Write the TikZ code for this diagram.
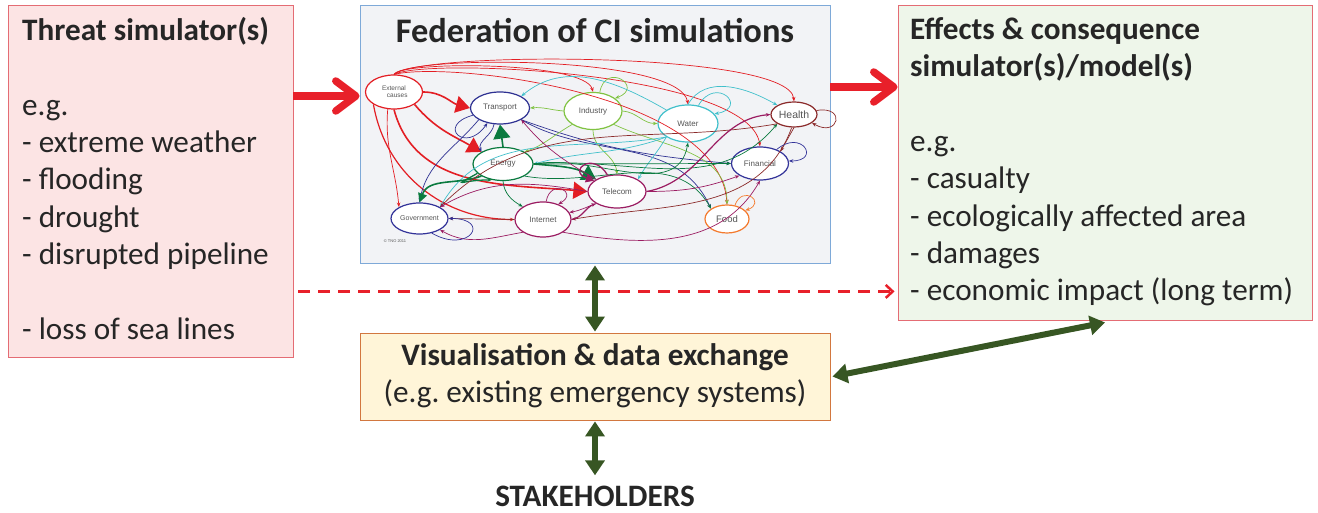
\documentclass[tikz,border=0pt]{standalone}
\usepackage{fontspec}
\setmainfont{Carlito}
\newfontfamily\graphfont{Liberation Sans}
\usetikzlibrary{arrows.meta,shapes.geometric,positioning}
\frenchspacing

\definecolor{threatred}{HTML}{E8202A}
\definecolor{boxred}{HTML}{E46C74}
\definecolor{threatfill}{HTML}{FCE4E4}
\definecolor{effectfill}{HTML}{EEF6EA}
\definecolor{fedfill}{HTML}{F2F3F6}
\definecolor{fedblue}{HTML}{7EA9D8}
\definecolor{visfill}{HTML}{FFF5D8}
\definecolor{visorange}{HTML}{D2773F}
\definecolor{linkgreen}{HTML}{375623}
\definecolor{txtgray}{HTML}{262626}
\definecolor{nodegray}{HTML}{555555}
\definecolor{extred}{HTML}{E31E24}
\definecolor{trnavy}{HTML}{2E3192}
\definecolor{indgreen}{HTML}{80C342}
\definecolor{watcyan}{HTML}{40C0CB}
\definecolor{hlthbrown}{HTML}{8B2B2B}
\definecolor{engreen}{HTML}{0A7A3F}
\definecolor{finnavy}{HTML}{333399}
\definecolor{telpurple}{HTML}{9B1C62}
\definecolor{foodorange}{HTML}{F47A2E}

\begin{document}
\begin{tikzpicture}[x=1pt, y=1pt,
  box/.style={draw, line width=0.9pt, inner sep=0pt},
  bigtext/.style={font=\fontsize{31.2}{37.4}\selectfont, text=txtgray, inner sep=0pt},
  boldtext/.style={bigtext, font=\fontsize{31.2}{37.4}\selectfont\bfseries},
  cinode/.style={ellipse, draw, line width=1.2pt, fill=white, inner sep=0pt, text=nodegray, font=\graphfont\fontsize{8}{8.5}\selectfont},
  link/.style={line width=0.7pt, -{Stealth[length=4.5pt,width=3.5pt]}},
  biglink/.style={line width=1.6pt, -{Triangle[length=14pt,width=17pt]}},
  flow/.style={threatred, line width=7.5pt, -{Straight Barb[length=20pt,width=30pt,round]}},
  share/.style={linkgreen, line width=6pt, {Triangle[length=15pt,width=19pt]}-{Triangle[length=15pt,width=19pt]}}]
\useasboundingbox (0,0) rectangle (1318,513);

% boxes
\node (threat) [box, draw=boxred, fill=threatfill, minimum width=285pt, minimum height=352pt] at (150.5,332) {};
\node (fed) [box, draw=fedblue, fill=fedfill, minimum width=470pt, minimum height=258pt] at (595,379) {};
\node (effects) [box, draw=boxred, fill=effectfill, minimum width=414pt, minimum height=315pt] at (1105,350.5) {};
\node (vis) [box, draw=visorange, fill=visfill, minimum width=470pt, minimum height=87pt] at (595,136.5) {};

% texts
\node (threatlist) [bigtext, anchor=north west, align=left] at (22,496)
  {\textbf{Threat simulator(s)}\\[37.4pt]
   e.g.\\
   - extreme weather\\
   - flooding\\
   - drought\\
   - disrupted pipeline\\[37.4pt]
   - loss of sea lines};
\node (effectlist) [bigtext, anchor=north west, align=left] at (910,496)
  {\textbf{Effects \& consequence}\\
   \textbf{simulator(s)/model(s)}\\[37.4pt]
   e.g.\\
   - casualty\\
   - ecologically affected area\\
   - damages\\
   - economic impact (long term)};
\node (fedtitle) [boldtext, font=\fontsize{34.4}{40}\selectfont\bfseries, anchor=base] at (595,470) {Federation of CI simulations};
\node (vistext) [bigtext, anchor=north, align=center] at (595,170)
  {\textbf{Visualisation \& data exchange}\\
   (e.g. existing emergency systems)};
\node (stake) [boldtext, anchor=base] at (595,6) {STAKEHOLDERS};

% CI nodes
\node (ext) [cinode, draw=extred, minimum width=57pt, minimum height=34pt, align=center, font=\graphfont\fontsize{6.5}{7}\selectfont] at (394,421) {External\\\quad causes};
\node (trans) [cinode, draw=trnavy, minimum width=59pt, minimum height=32pt] at (500,405) {Transport};
\node (ind) [cinode, draw=indgreen, minimum width=58pt, minimum height=37pt] at (593,402) {Industry};
\node (wat) [cinode, draw=watcyan, minimum width=60pt, minimum height=37pt] at (688,389.5) {Water};
\node (hlth) [cinode, draw=hlthbrown, minimum width=46pt, minimum height=25pt, font=\graphfont\fontsize{10.5}{11}\selectfont] at (794,398.5) {Health};
\node (engy) [cinode, draw=engreen, minimum width=60pt, minimum height=33pt] at (503,349) {Energy};
\node (fin) [cinode, draw=finnavy, minimum width=57pt, minimum height=33pt] at (760,349.5) {Financial};
\node (tel) [cinode, draw=telpurple, minimum width=58pt, minimum height=33pt] at (617,321.5) {Telecom};
\node (gov) [cinode, draw=finnavy, minimum width=57pt, minimum height=31pt, font=\graphfont\fontsize{7}{7.5}\selectfont] at (419.5,294.5) {Government};
\node (inet) [cinode, draw=telpurple, minimum width=56pt, minimum height=35pt] at (543,293.5) {Internet};
\node (food) [cinode, draw=foodorange, minimum width=44pt, minimum height=28pt, font=\graphfont\fontsize{9.5}{10}\selectfont] at (727,294) {Food};
\node (tno) [text=nodegray, inner sep=0pt, font=\graphfont\fontsize{4}{4}\selectfont] at (395,272) {\textcopyright{} TNO 2011};

% External causes
\draw[biglink, extred] (ext.east) to[out=0,in=165] (trans.west);
\draw[biglink, extred] (ext.south east) to[out=-50,in=150] (engy.north west);
\draw[biglink, extred] (ext.south) to[out=-75,in=175] (tel.west);
\draw[link, extred, line width=1.2pt] (ext.south west) to[out=-80,in=180] (inet.west);
\draw[link, extred] (ext.250) to[out=-95,in=95] (gov.north west);
\draw[link, extred] (ext.north) .. controls (400,452) and (585,452) .. (ind.north);
\draw[link, extred] (ext.north) .. controls (410,458) and (680,458) .. (wat.north);
\draw[link, extred] (ext.north) .. controls (420,462) and (790,462) .. (hlth.north);
\draw[link, extred] (ext.north) .. controls (430,456) and (750,440) .. (fin.north);
\draw[link, extred] (ext.north) .. controls (450,452) and (720,420) .. (food.north);

% Transport
\draw[link, trnavy] (trans.195) to[out=195,in=235,looseness=6] (trans.230);
\draw[link, trnavy] (trans.250) to[out=-100,in=110] (engy.north west);
\draw[link, trnavy] (trans.south west) to[out=-130,in=80] (gov.north);
\draw[link, trnavy] (trans.south east) to[out=-30,in=115] (food.north west);
\draw[link, trnavy] (trans.south east) to[out=-20,in=175] (fin.west);

% Industry
\draw[link, indgreen] (ind.70) to[out=80,in=20,looseness=5] (ind.30);
\draw[link, indgreen] (ind.west) to[out=175,in=5] (trans.east);
\draw[link, indgreen] (ind.east) to[out=-5,in=180] (wat.west);
\draw[link, indgreen] (ind.south west) to[out=-150,in=20] (engy.north east);
\draw[link, indgreen] (ind.south) to[out=-90,in=95] (tel.north);
\draw[link, indgreen] (ind.south east) to[out=-25,in=90] (food.north);

% Water
\draw[link, watcyan] (wat.60) to[out=60,in=10,looseness=5] (wat.20);
\draw[link, watcyan] (wat.north west) to[out=150,in=40] (trans.north east);
\draw[link, watcyan] (wat.north) to[out=60,in=150] (hlth.north west);
\draw[link, watcyan] (wat.south west) to[out=-160,in=15] (engy.east);
\draw[link, watcyan] (wat.south west) to[out=-120,in=60] (tel.north east);
\draw[link, watcyan] (wat.south west) to[out=-170,in=60] (gov.north east);

% Energy
\draw[biglink, engreen] (engy.north) -- (trans.south);
\draw[link, engreen, line width=1.3pt] (engy.200) to[out=-150,in=180,looseness=5] (engy.235);
\draw[biglink, engreen] (engy.east) to[out=-5,in=150] (tel.north west);
\draw[engreen, line width=1.6pt, -{Triangle[length=9pt,width=9pt]}] (engy.south west) to[out=-160,in=70] (gov.north);
\draw[link, engreen] (engy.south) to[out=-85,in=150] (inet.north west);
\draw[link, engreen] (engy.east) to[out=10,in=-100] (wat.south);
\draw[link, engreen] (engy.east) to[out=5,in=-130] (hlth.south west);
\draw[link, engreen] (engy.east) -- (fin.west);
\draw[link, engreen] (engy.south east) to[out=-10,in=120] (food.north west);

% Health
\draw[link, hlthbrown] (hlth.10) to[out=10,in=-30,looseness=6] (hlth.-25);
\draw[link, hlthbrown] (hlth.south) -- (fin.north east);
\draw[link, hlthbrown] (hlth.south west) to[out=-170,in=45] (gov.north east);
\draw[link, hlthbrown] (hlth.-100) to[out=-110,in=10] (inet.east);

% Financial
\draw[link, finnavy] (fin.40) to[out=40,in=0,looseness=5] (fin.5);

% Telecom
\draw[telpurple, line width=1.3pt, -{Triangle[length=8pt,width=9pt]}] (tel.120) to[out=120,in=160,looseness=5] (tel.155);
\draw[link, telpurple] (tel.south west) to[out=-160,in=10] (inet.15);
\draw[link, telpurple, line width=1.2pt] (tel.east) to[out=10,in=185] (hlth.west);
\draw[link, telpurple] (tel.east) to[out=0,in=-160] (fin.south west);
\draw[link, telpurple] (tel.west) to[out=170,in=30] (gov.north east);
\draw[link, telpurple] (tel.north west) to[out=150,in=-50] (trans.south east);

% Internet
\draw[link, telpurple] (inet.80) to[out=80,in=30,looseness=5] (inet.45);
\draw[link, telpurple, line width=1.2pt] (inet.east) to[out=10,in=-160] (tel.south west);
\draw[link, telpurple] (inet.south west) to[out=-170,in=-30] (gov.south east);
\draw[link, telpurple] (inet.south east) to[out=-10,in=-120] (fin.south);
\draw[link, hlthbrown] (inet.west) -- (gov.east);

% Government, Food
\draw[link, finnavy] (gov.-50) to[out=-30,in=0,looseness=5] (gov.east);
\draw[link, foodorange] (food.60) to[out=70,in=20,looseness=5] (food.25);

% flows between the boxes
\draw[flow] ([yshift=85pt]threat.east) -- ([yshift=38pt]fed.west);
\draw[flow] ([yshift=47pt]fed.east) -- ([yshift=75.5pt]effects.west);
\draw[threatred, line width=2.5pt, dash pattern=on 12pt off 8pt, -{Straight Barb[length=7pt,width=13pt]}]
  ([xshift=5pt,yshift=66pt]threat.south east) -- ([xshift=-3pt,yshift=29pt]effects.south west);
\draw[share] ([yshift=-2pt]fed.south) -- ([yshift=1pt]vis.north);
\draw[share] ([yshift=-1pt]vis.south) -- ([yshift=11pt]stake.north);
\draw[share] ([xshift=2pt]vis.east) -- ([yshift=-2pt]effects.south);
\end{tikzpicture}
\end{document}
